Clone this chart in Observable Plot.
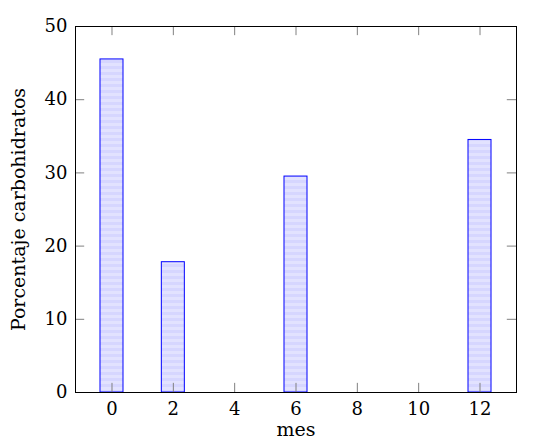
<!DOCTYPE html>
<html><head><meta charset="utf-8">
<script src="https://cdn.jsdelivr.net/npm/d3@7"></script>
<script src="https://cdn.jsdelivr.net/npm/@observablehq/plot@0.6"></script>
<style>body{margin:0;background:#fff}</style>
</head><body><div id="chart"></div>
<script>
const meses = [0, 2, 6, 12];
const porcentajes = [45.5, 17.8, 29.5, 34.5];
const xTicks = [0, 2, 4, 6, 8, 10, 12];
const yTicks = [0, 10, 20, 30, 40, 50];
const data = meses.map((m, i) => ({mes: m, pct: porcentajes[i]}));
const halfW = 0.375;
const tickLenY = 1.25;   // in y units
const tickLenX = 0.3;    // in x units
const font = "DejaVu Serif";

const plot = Plot.plot({
  width: 534, height: 448,
  marginLeft: 75, marginRight: 18, marginTop: 26, marginBottom: 56,
  style: {fontFamily: font, fontSize: "18px", color: "black", background: "white"},
  x: {domain: [-1.19, 13.19], ticks: xTicks, label: null},
  y: {domain: [0, 50], ticks: yTicks, label: null},
  marks: [
    Plot.rectY(data, {x1: d => d.mes - halfW, x2: d => d.mes + halfW, y1: 0, y2: "pct", fill: "url(#stripes)", stroke: "blue", strokeWidth: 1}),
    Plot.ruleX(xTicks, {x: d => d, y1: 0, y2: tickLenY, stroke: "#808080"}),
    Plot.ruleX(xTicks, {x: d => d, y1: 50, y2: 50 - tickLenY, stroke: "#808080"}),
    Plot.ruleY(yTicks, {y: d => d, x1: -1.19, x2: -1.19 + tickLenX, stroke: "#808080"}),
    Plot.ruleY(yTicks, {y: d => d, x1: 13.19, x2: 13.19 - tickLenX, stroke: "#808080"}),
    Plot.frame({stroke: "black", strokeWidth: 1}),
    Plot.axisX(xTicks, {tickSize: 0, tickPadding: 10, fontSize: 18, fontFamily: font}),
    Plot.axisY(yTicks, {tickSize: 0, tickPadding: 8, fontSize: 18, fontFamily: font}),
    Plot.text(["mes"], {frameAnchor: "bottom", dy: 43, fontSize: 19, fontFamily: font}),
    Plot.text(["Porcentaje carbohidratos"], {frameAnchor: "left", dx: -57, rotate: -90, textAnchor: "middle", fontSize: 19, fontFamily: font})
  ]
});
const svg = d3.select(plot);
svg.selectAll("text").style("font-family", font);
const defs = svg.insert("defs", ":first-child");
const pat = defs.append("pattern").attr("id", "stripes").attr("patternUnits", "userSpaceOnUse")
  .attr("width", 6).attr("height", 6);
pat.append("rect").attr("width", 6).attr("height", 6).attr("fill", "#e2e2ff");
pat.append("rect").attr("width", 6).attr("height", 3).attr("fill", "#d6d6ff");
document.getElementById("chart").appendChild(plot);
</script></body></html>
